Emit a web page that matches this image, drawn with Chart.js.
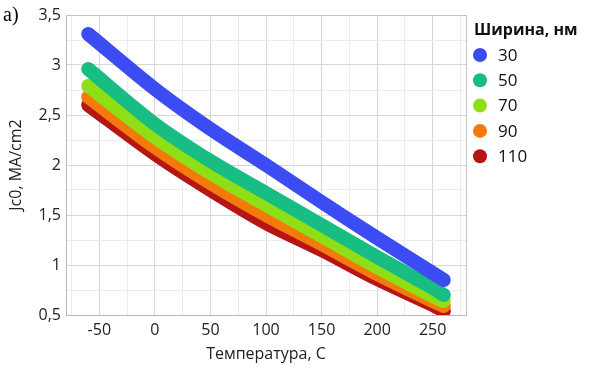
<!DOCTYPE html>
<html>
<head>
<meta charset="utf-8">
<script src="https://cdn.jsdelivr.net/npm/chart.js@4/dist/chart.umd.min.js"></script>
<style>
  body { margin: 0; background: #fff; }
  #wrap { width: 589px; height: 372px; position: relative; }
</style>
</head>
<body>
<div id="wrap"><canvas id="chart1" width="589" height="372"></canvas></div>
<script>
// температура, C
var temps = [-60, 0, 50, 100, 150, 200, 250, 260];
// Jc0, MA/cm2 для каждой ширины
var w30  = [3.31, 2.76, 2.36, 2.00, 1.63, 1.27, 0.92, 0.85];
var w50  = [2.96, 2.41, 2.04, 1.72, 1.40, 1.08, 0.77, 0.70];
var w70  = [2.79, 2.28, 1.92, 1.60, 1.29, 0.98, 0.69, 0.64];
var w90  = [2.68, 2.18, 1.82, 1.50, 1.21, 0.91, 0.64, 0.59];
var w110 = [2.60, 2.11, 1.75, 1.42, 1.15, 0.86, 0.60, 0.54];

var widths = ['30', '50', '70', '90', '110'];
var colors = ['#3b4cf3', '#17bd82', '#8fdf17', '#f57a0c', '#b51515'];
var xTickLabels = [-50, 0, 50, 100, 150, 200, 250];
var yTickLabels = ['0,5', '1', '1,5', '2', '2,5', '3', '3,5'];

var fontFamily = '"Open Sans", "Noto Sans", sans-serif';

function points(ys) {
    return temps.map(function (t, i) { return { x: t, y: ys[i] }; });
}

var series = [w30, w50, w70, w90, w110];
var datasets = series.map(function (ys, i) {
    return {
        label: widths[i],
        data: points(ys),
        borderColor: colors[i],
        backgroundColor: colors[i],
        borderWidth: 14,
        borderCapStyle: 'round',
        borderJoinStyle: 'round',
        pointRadius: 0,
        tension: 0.3
    };
});

// легенда справа и подпись "a)"
var sidePlugin = {
    id: 'side',
    afterDraw: function (chart) {
        var ctx = chart.ctx;
        ctx.save();
        ctx.fillStyle = '#000';
        ctx.font = '20px "Liberation Serif", serif';
        ctx.textBaseline = 'alphabetic';
        ctx.textAlign = 'left';
        ctx.fillText('a)', 3, 21);

        ctx.font = 'bold 16px ' + fontFamily;
        ctx.textBaseline = 'middle';
        ctx.fillStyle = '#111';
        ctx.fillText('Ширина, нм', 474, 30);

        ctx.font = '17px ' + fontFamily;
        chart.data.datasets.forEach(function (ds, i) {
            var y = 55 + i * 25.3;
            ctx.beginPath();
            ctx.arc(480, y, 7, 0, Math.PI * 2);
            ctx.fillStyle = ds.borderColor;
            ctx.fill();
            ctx.fillStyle = '#111';
            ctx.fillText(ds.label, 498, y + 1);
        });
        ctx.restore();
    }
};

// основные и промежуточные деления
function makeTicks(min, max, step) {
    var out = [];
    var first = Math.ceil(min / step - 1e-9) * step;
    if (first - min > 1e-9) out.push({ value: min });
    for (var v = first; v <= max + 1e-9; v += step) {
        out.push({ value: Math.round(v * 1000) / 1000 });
    }
    if (out[out.length - 1].value < max - 1e-9) out.push({ value: max });
    return out;
}

var chart1Ctx = document.querySelector('canvas#chart1').getContext('2d');

var chart1 = new Chart(chart1Ctx, {
    type: 'line',
    data: { datasets: datasets },
    plugins: [sidePlugin],
    options: {
        responsive: false,
        animation: false,
        layout: { padding: { top: 15, right: 123, bottom: 0, left: 0 } },
        plugins: {
            legend: { display: false },
            tooltip: { enabled: false }
        },
        scales: {
            x: {
                type: 'linear',
                min: -80,
                max: 280,
                afterFit: function (s) { s.height = 57; },
                afterBuildTicks: function (s) { s.ticks = makeTicks(-80, 280, 25); },
                ticks: {
                    padding: 6,
                    autoSkip: false,
                    maxRotation: 0,
                    minRotation: 0,
                    color: '#222',
                    font: { family: fontFamily, size: 16 },
                    callback: function (v) {
                        return xTickLabels.indexOf(v) >= 0 ? String(v) : '';
                    }
                },
                grid: {
                    drawTicks: false,
                    color: function (c) {
                        var v = c.tick ? c.tick.value : 0;
                        if (v === 280 || v === -80) return '#c4c4c4';
                        return xTickLabels.indexOf(v) >= 0 ? '#d6d6d6' : '#ececec';
                    }
                },
                border: { color: '#b8b8b8', width: 1 },
                title: {
                    display: true,
                    text: 'Температура, С',
                    color: '#222',
                    font: { family: fontFamily, size: 16 },
                    padding: { top: 0, bottom: 8 }
                }
            },
            y: {
                min: 0.5,
                max: 3.5,
                afterFit: function (s) { s.width = 66; },
                afterBuildTicks: function (s) { s.ticks = makeTicks(0.5, 3.5, 0.25); },
                ticks: {
                    padding: 5,
                    autoSkip: false,
                    color: '#222',
                    font: { family: fontFamily, size: 16 },
                    callback: function (v) {
                        var k = (v - 0.5) / 0.5;
                        return Math.abs(k - Math.round(k)) < 1e-6 ? yTickLabels[Math.round(k)] : '';
                    }
                },
                grid: {
                    drawTicks: false,
                    color: function (c) {
                        var v = c.tick ? c.tick.value : 0;
                        if (Math.abs(v - 3.5) < 1e-6) return '#c4c4c4';
                        var k = (v - 0.5) / 0.5;
                        return Math.abs(k - Math.round(k)) < 1e-6 ? '#d6d6d6' : '#ececec';
                    }
                },
                border: { color: '#b8b8b8', width: 1 },
                title: {
                    display: true,
                    text: 'Jc0, MA/cm2',
                    color: '#222',
                    font: { family: fontFamily, size: 16 },
                    padding: { top: 7, bottom: 0 }
                }
            }
        }
    }
});
</script>
</body>
</html>
